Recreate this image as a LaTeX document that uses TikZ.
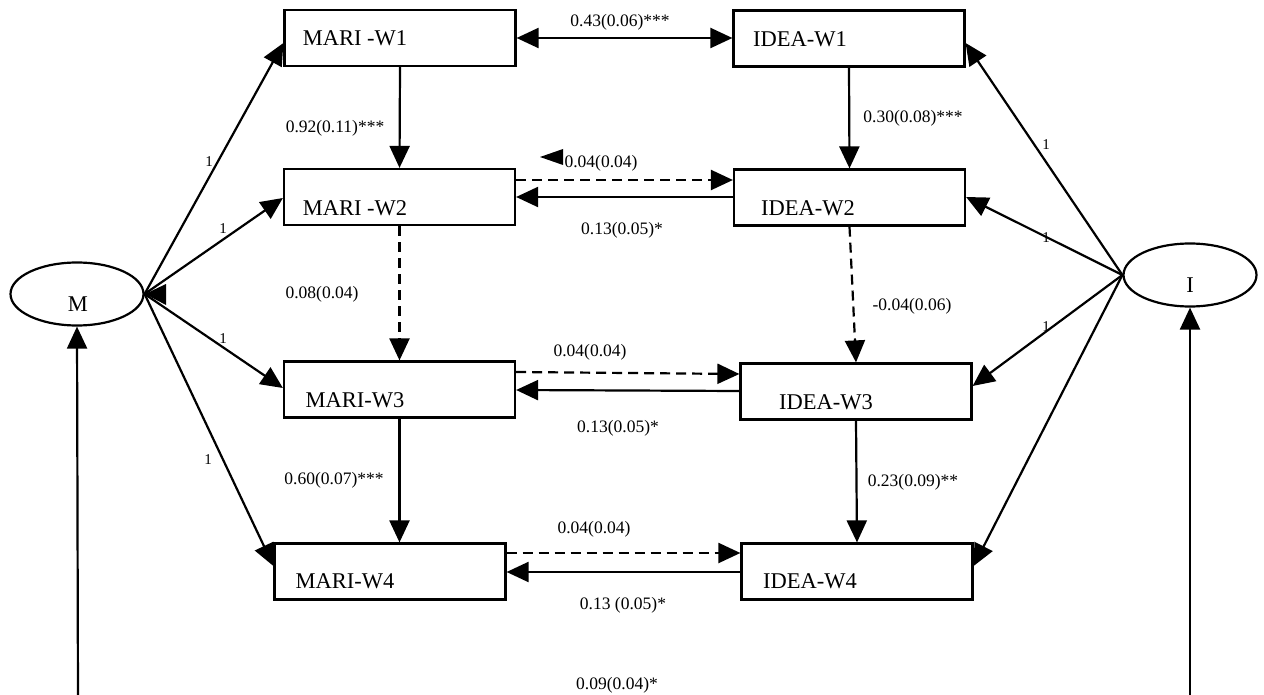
\documentclass[tikz,border=0pt]{standalone}
\usepackage{fontspec}
\setmainfont{Liberation Serif}
\usetikzlibrary{arrows.meta,shapes.geometric}
\begin{document}
\begin{tikzpicture}[x=1pt,y=-1pt,
 box/.style={draw,line width=2.2pt,minimum width=231pt,minimum height=56pt,inner sep=0pt},
 lat/.style={draw,ellipse,line width=2.2pt,minimum width=133pt,minimum height=63pt,inner sep=0pt},
 lbl/.style={font=\fontsize{22.5}{24}\selectfont,inner sep=0pt},
 coef/.style={font=\fontsize{17.5}{19}\selectfont,inner sep=0pt},
 one/.style={font=\fontsize{15}{16}\selectfont,inner sep=0pt},
 arr/.style={line width=2.2pt,-{Triangle[length=22pt,width=20pt]}},
 darr/.style={arr,dash pattern=on 10pt off 6pt},
 barr/.style={line width=2.2pt,{Triangle[length=22pt,width=20pt]}-{Triangle[length=22pt,width=20pt]}}
]
\useasboundingbox (0,0) rectangle (1264,695);
% boxes
\node[box] (mw1) at (400,38) {};
\node[box] (iw1) at (849,38.5) {};
\node[box] (mw2) at (399.5,197) {};
\node[box] (iw2) at (849.5,197.5) {};
\node[box] (mw3) at (399.5,389.5) {};
\node[box] (iw3) at (856,391.5) {};
\node[box] (mw4) at (390,571.5) {};
\node[box] (iw4) at (857,571.5) {};
% box texts
\node[lbl] (tmw1) at (355,38) {MARI -W1};
\node[lbl] (tiw1) at (800,39) {IDEA-W1};
\node[lbl] (tmw2) at (355,208) {MARI -W2};
\node[lbl] (tiw2) at (808,208) {IDEA-W2};
\node[lbl] (tmw3) at (355,400) {MARI-W3};
\node[lbl] (tiw3) at (826,402) {IDEA-W3};
\node[lbl] (tmw4) at (345,581) {MARI-W4};
\node[lbl] (tiw4) at (810,581) {IDEA-W4};
% latent
\node[lat] (M) at (77,294) {};
\node[lbl] (Mt) at (78,304) {M};
\node[lat] (I) at (1190,275) {};
\node[lbl] (It) at (1190,285) {I};
% bottom coordinates
\coordinate (mb) at (78,700);
\coordinate (ib) at (1190,700);
\draw[arr] (mb) -- (M.south);
\draw[arr] (ib) -- (I.south);
% loadings M
\draw[arr] (M.east) -- (mw1.west |- 0,43);
\draw[arr] (M.east) -- (mw2.west |- 0,198);
\draw[arr] (M.east) -- (mw3.west |- 0,388);
\draw[arr] (M.east) -- (mw4.west |- 0,566);
% loadings I
\draw[arr] (I.west) -- (iw1.east |- 0,43);
\draw[arr] (I.west) -- (iw2.east |- 0,197);
\draw[arr] (I.west) -- (iw3.east |- 0,386);
\draw[arr] (I.west) -- (iw4.east |- 0,566);
% autoregressive
\draw[arr] (mw1.south) -- (mw2.south |- mw2.north);
\draw[arr] (iw1.south) -- (iw2.north);
\draw[darr] (mw2.south) -- (mw3.north);
\draw[darr] (iw2.south) -- (iw3.north);
\draw[arr] (mw3.south) -- (mw3.south |- mw4.north);
\draw[arr] (iw3.south) -- (iw4.north);
% cross
\draw[barr] (mw1.east) -- (iw1.west |- mw1.east);
\draw[darr] (mw2.east |- 0,180) -- (iw2.west |- 0,180);
\draw[arr] (iw2.west |- 0,197) -- (mw2.east |- 0,197);
\draw[darr] (mw3.east |- 0,372) -- (iw3.west |- 0,374);
\draw[arr] (iw3.west |- 0,391) -- (mw3.east |- 0,390);
\draw[darr] (mw4.east |- 0,553) -- (iw4.west |- 0,553);
\draw[arr] (iw4.west |- 0,572) -- (mw4.east |- 0,572);
% stray arrowheads
\fill (145,294) -- (166,284) -- (166,305) -- cycle;
\fill (540,157) -- (563,149) -- (563,165) -- cycle;
% coefficient labels
\node[coef] (c1) at (620,22) {0.43(0.06)***};
\node[coef] (c2) at (335,128) {0.92(0.11)***};
\node[coef] (c3) at (913,118) {0.30(0.08)***};
\node[coef] (c4) at (601,163) {0.04(0.04)};
\node[coef] (c5) at (622,230) {0.13(0.05)*};
\node[coef] (c6) at (322,294) {0.08(0.04)};
\node[coef] (c7) at (912,306) {-0.04(0.06)};
\node[coef] (c8) at (590,352) {0.04(0.04)};
\node[coef] (c9) at (618,428) {0.13(0.05)*};
\node[coef] (c10) at (334,480) {0.60(0.07)***};
\node[coef] (c11) at (913,482) {0.23(0.09)**};
\node[coef] (c12) at (594,529) {0.04(0.04)};
\node[coef] (c13) at (623,605) {0.13 (0.05)*};
\node[coef] (c14) at (617,685) {0.09(0.04)*};
% loading labels
\node[one] (l1) at (209,162) {1};
\node[one] (l2) at (223,229) {1};
\node[one] (l3) at (223,339) {1};
\node[one] (l4) at (208,460) {1};
\node[one] (r1) at (1046,145) {1};
\node[one] (r2) at (1046,238) {1};
\node[one] (r3) at (1046,327) {1};
\end{tikzpicture}
\end{document}
